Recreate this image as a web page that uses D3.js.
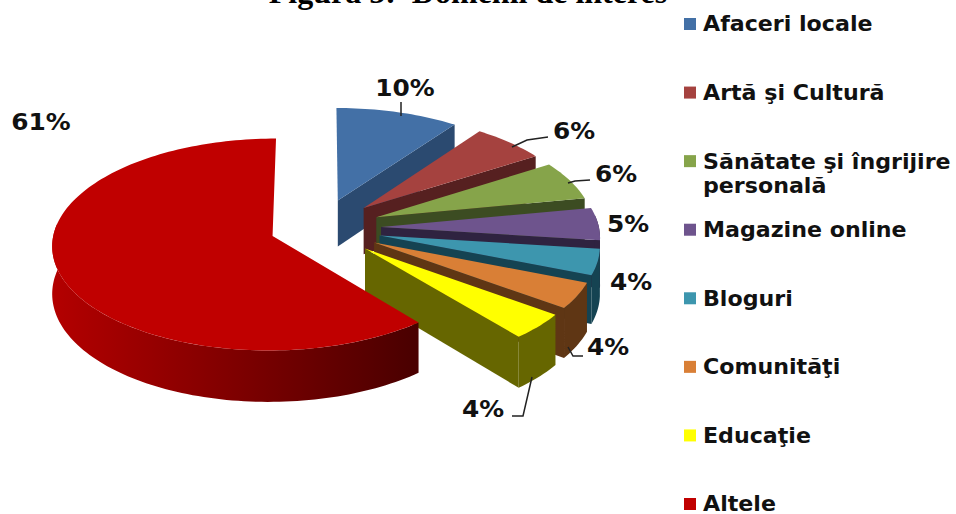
<!DOCTYPE html>
<html>
<head>
<meta charset="utf-8">
<script src="https://cdn.jsdelivr.net/npm/d3@7/dist/d3.min.js"></script>
<style>
html,body{margin:0;padding:0;background:#fff;}
svg{display:block;}
text{font-family:"DejaVu Sans",sans-serif;font-weight:bold;fill:#111;}
</style>
</head>
<body>
<svg id="chart" width="956" height="514"></svg>
<script>
// Domain shares, in percent
const categories = ["Afaceri locale","Artă şi Cultură","Sănătate şi îngrijire|personală","Magazine online","Bloguri","Comunităţi","Educaţie","Altele"];
const shares = [10,6,6,5,4,4,4,61];
const topColors = ["#4370a6","#a5423f","#86a44a","#6e548d","#3d96ae","#d97f36","#ffff00","#c00000"];
const sideColors = ["#2b4a70","#562020","#3c4c22","#2f2340","#154352","#5f3614","#666600","#7a0000"];
const titleText = "Figura 5:\u00a0\u00a0Domenii de interes";

const W = 956, H = 514;
const svg = d3.select("#chart").attr("viewBox",[0,0,W,H]);

// Tilted-disc projection: unit-disc coordinates to screen, with mild perspective
const CX = 319, CY = 228, RX = 218, RY = 104, PERSP = 0.08, DEPTH = 47;
const xScale = d3.scaleLinear().domain([-1,1]).range([CX-RX,CX+RX]);
const yScale = d3.scaleLinear().domain([-1,1]).range([CY+RY,CY-RY]);
function project(X,Y,down=0){
  const w = 1 + PERSP*Y;
  return [xScale(X/w), yScale(Y/w) + down/w];
}

const pie = d3.pie().value(d=>d).sort(null).startAngle(0).endAngle(2*Math.PI);
const slices = pie(shares);

const EXPLODE = 0.285, EXPLODE_LARGEST = 0.225;
const defs = svg.append("defs");
const grad = defs.append("linearGradient").attr("id","rimShade")
  .attr("gradientUnits","userSpaceOnUse").attr("x1",50).attr("x2",415).attr("y1",0).attr("y2",0);
grad.append("stop").attr("offset",0).attr("stop-color","#b40000");
grad.append("stop").attr("offset",0.55).attr("stop-color","#7a0000");
grad.append("stop").attr("offset",1).attr("stop-color","#4a0000");

const line = d3.line();
const chart = svg.append("g");

slices.forEach((s,i)=>{
  const a0 = s.startAngle, a1 = s.endAngle, mid = (a0+a1)/2;
  const e = shares[i] === d3.max(shares) ? EXPLODE_LARGEST : EXPLODE;
  const ox = e*Math.sin(mid), oy = e*Math.cos(mid);
  const P = (a,r,down=0)=>project(ox+r*Math.sin(a), oy+r*Math.cos(a), down);
  const n = Math.max(8,Math.ceil((a1-a0)*40));
  const arcAngles = d3.range(n+1).map(k=>a0+(a1-a0)*k/n);
  const g = chart.append("g").attr("class","slice");

  // radial wall along the slice's closing edge, visible on the right half
  if (a1 < Math.PI){
    g.append("path").attr("fill",sideColors[i])
      .attr("d",line([P(a1,0),P(a1,1),P(a1,1,DEPTH),P(a1,0,DEPTH)])+"Z");
  }
  // outer wall, only the part of the rim that faces the viewer
  const lo = Math.max(a0,Math.PI/2-0.12), hi = Math.min(a1,3*Math.PI/2+0.12);
  if (hi > lo){
    const m = Math.max(4,Math.ceil((hi-lo)*40));
    const rim = d3.range(m+1).map(k=>lo+(hi-lo)*k/m);
    const pts = rim.map(a=>P(a,1)).concat(rim.slice().reverse().map(a=>P(a,1,DEPTH)));
    g.append("path").attr("d",line(pts)+"Z")
      .attr("fill",i===shares.length-1 ? "url(#rimShade)" : sideColors[i]);
  }
  // top face
  const top = [P(a0,0)].concat(arcAngles.map(a=>P(a,1)));
  g.append("path").attr("d",line(top)+"Z").attr("fill",topColors[i]);
});

// Value labels and their leader lines
const labelPos = [[405,88],[574,131],[616,174],[628,224],[631,282],[608,347],[483,409],[41,122]];
const leaders = [
  [[401,102],[401,116]],
  [[548,137],[527,140],[512,147]],
  [[590,180],[575,181],[568,183]],
  null,null,
  [[583,356],[573,356],[568,347]],
  [[512,416],[523,416],[532,377]],
  null
];
const labels = svg.append("g");
leaders.forEach(p=>{ if(p) labels.append("path").attr("d",line(p)).attr("fill","none").attr("stroke","#222").attr("stroke-width",1.5); });
shares.forEach((v,i)=>{
  labels.append("text").attr("text-anchor","middle").attr("dominant-baseline","central")
    .attr("transform",`translate(${labelPos[i][0]},${labelPos[i][1]}) scale(1.08,1)`)
    .attr("font-size",23).text(v+"%");
});

// Legend column
const legendY = d3.scalePoint().domain(categories).range([24,504]);
const legend = svg.append("g");
categories.forEach((c,i)=>{
  const y = legendY(c);
  legend.append("rect").attr("x",684).attr("y",y-6).attr("width",12).attr("height",12).attr("fill",topColors[i]);
  c.split("|").forEach((t,k)=>{
    legend.append("text").attr("transform",`translate(703,${y+k*24}) scale(1.03,1)`)
      .attr("dominant-baseline","central").attr("font-size",21.5).text(t);
  });
});

// Title, clipped by the top of the page
svg.append("text").attr("x",468).attr("y",3).attr("text-anchor","middle")
  .style("font-family","'Liberation Serif',serif").style("fill","#000")
  .attr("font-size",32).text(titleText);
</script>
</body>
</html>
